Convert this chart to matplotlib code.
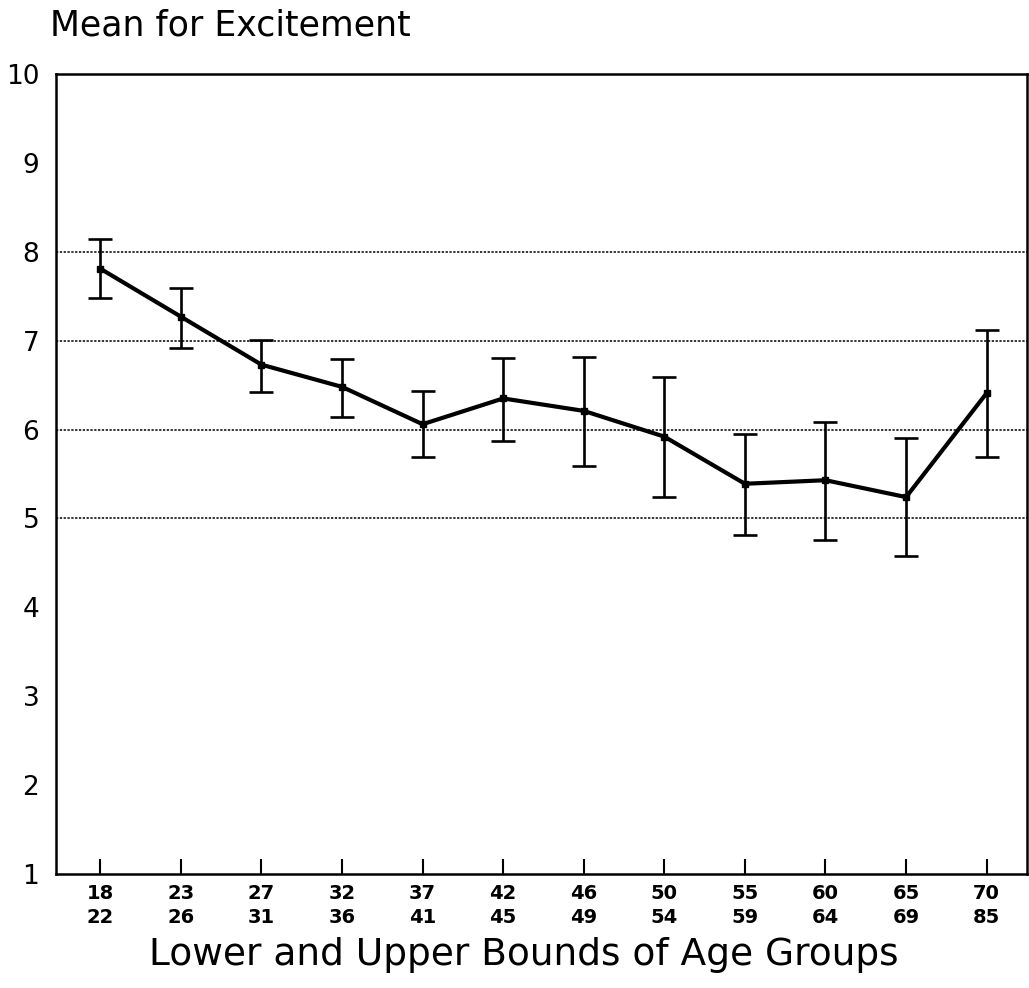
import matplotlib.pyplot as plt

# age groups (lower / upper bounds) and excitement means with interval ends
lower_bounds = ["18", "23", "27", "32", "37", "42", "46", "50", "55", "60", "65", "70"]
upper_bounds = ["22", "26", "31", "36", "41", "45", "49", "54", "59", "64", "69", "85"]
means = [7.81, 7.27, 6.73, 6.48, 6.06, 6.35, 6.21, 5.92, 5.39, 5.43, 5.24, 6.41]
upper = [8.14, 7.59, 7.01, 6.79, 6.43, 6.80, 6.82, 6.59, 5.95, 6.08, 5.91, 7.12]
lower = [7.48, 6.92, 6.42, 6.14, 5.69, 5.87, 5.59, 5.24, 4.81, 4.76, 4.58, 5.69]
grid_levels = [5, 6, 7, 8]

x = list(range(len(means)))
err_lo = [m - l for m, l in zip(means, lower)]
err_hi = [u - m for m, u in zip(means, upper)]

fig = plt.figure(figsize=(10.29, 9.88), dpi=100)
ax = fig.add_axes([0.0544, 0.1154, 0.9436, 0.8097])

# dotted reference lines
for g in grid_levels:
    ax.axhline(g, color="black", lw=1.1, ls=(0, (1.5, 1)), zorder=1)

ax.errorbar(x, means, yerr=[err_lo, err_hi], color="black", lw=3,
            elinewidth=1.9, capsize=8.5, capthick=1.9,
            marker="s", markersize=5, zorder=3)

ax.set_xlim(-0.55, 11.5)
ax.set_ylim(1, 10)
ax.set_yticks(range(1, 11))
ax.set_xticks(x)
ax.set_xticklabels([f"{a}\n{b}" for a, b in zip(lower_bounds, upper_bounds)],
                   fontsize=14, fontweight="bold", linespacing=1.35)

ax.tick_params(axis="x", direction="in", length=11, width=1.5, pad=7)
ax.tick_params(axis="y", length=0, pad=12, labelsize=19)

for side in ["left", "bottom", "top", "right"]:
    ax.spines[side].set_linewidth(1.8)

ax.set_xlabel("Lower and Upper Bounds of Age Groups", fontsize=27, va="center")
ax.xaxis.set_label_coords(0.482, -0.101)

fig.text(0.049, 0.974, "Mean for Excitement", fontsize=25, ha="left", va="center")

fig.savefig("out.png", dpi=100, facecolor="white")
